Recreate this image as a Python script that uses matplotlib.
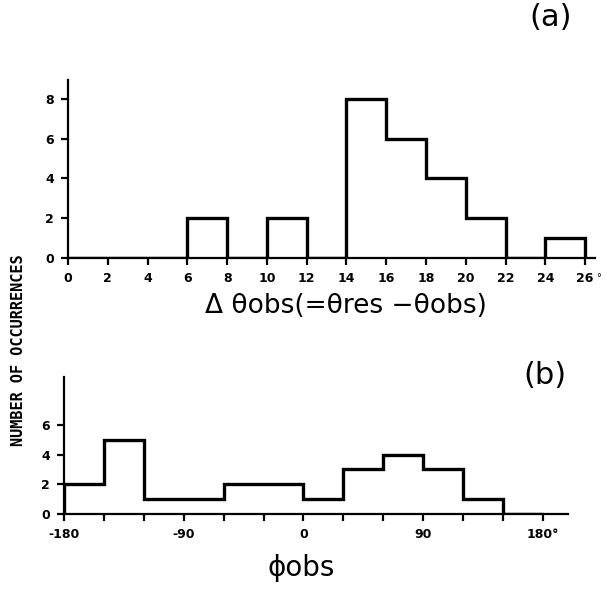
import numpy as np
import matplotlib.pyplot as plt

# (a) delta theta_obs histogram
theta_edges = np.arange(0, 27, 2)
theta_counts = [0, 0, 0, 2, 0, 2, 0, 8, 6, 4, 2, 0, 1]
theta_ticks = np.arange(0, 27, 2)

# (b) phi_obs histogram
phi_edges = np.arange(-180, 181, 30)
phi_counts = [2, 5, 1, 1, 2, 2, 1, 3, 4, 3, 1, 0]
phi_ticks = [-180, -90, 0, 90, 180]
phi_ticklabels = ["-180", "-90", "0", "90", "180°"]

fig = plt.figure(figsize=(6.05, 5.89), dpi=100)


def style(ax):
    for s in ["top", "right"]:
        ax.spines[s].set_visible(False)
    for s in ["left", "bottom"]:
        ax.spines[s].set_linewidth(1.6)
    ax.tick_params(width=1.6, length=5, direction="out", pad=5)
    ax.tick_params(which="minor", width=1.6, length=5)
    for lab in ax.get_xticklabels() + ax.get_yticklabels():
        lab.set_fontsize(9)
        lab.set_fontweight("bold")


# top panel
ax1 = fig.add_axes([0.1124, 0.562, 0.9835 - 0.1124, 0.864 - 0.562])
ax1.stairs(theta_counts, theta_edges, color="black", linewidth=2.4, baseline=0)
ax1.set_xlim(0, 26.5)
ax1.set_ylim(0, 8.95)
ax1.set_xticks(theta_ticks)
ax1.set_yticks([0, 2, 4, 6, 8])
style(ax1)
ax1.text(26.55, -1.0, "°", fontsize=7, ha="left", va="center")
ax1.set_xlabel("Δ θobs(=θres −θobs)", fontsize=19)
ax1.xaxis.set_label_coords((346 - 68) / 527, -0.195)
ax1.xaxis.label.set_va("top")

# bottom panel
ax2 = fig.add_axes([0.106, 0.127, 0.939 - 0.106, 0.360 - 0.127])
ax2.stairs(phi_counts, phi_edges, color="black", linewidth=2.4, baseline=0)
ax2.set_xlim(-180, 199)
ax2.set_ylim(0, 9.2)
ax2.set_xticks(phi_ticks)
ax2.set_xticklabels(phi_ticklabels)
ax2.set_xticks(np.arange(-150, 180, 30), minor=True)
ax2.set_yticks([0, 2, 4, 6])
style(ax2)
ax2.set_xlabel("ϕobs", fontsize=20)
ax2.xaxis.set_label_coords((301 - 64) / 504, -0.29)
ax2.xaxis.label.set_va("top")

fig.text(0.91, 0.97, "(a)", fontsize=22, ha="center", va="center")
fig.text(0.90, 0.363, "(b)", fontsize=22, ha="center", va="center")
fig.text(0.03, 1 - 350 / 589, "NUMBER OF OCCURRENCES", rotation=90, fontsize=11,
         fontweight="bold", family="DejaVu Sans Mono", ha="center", va="center")

fig.savefig("out.png", dpi=100, facecolor="white")
